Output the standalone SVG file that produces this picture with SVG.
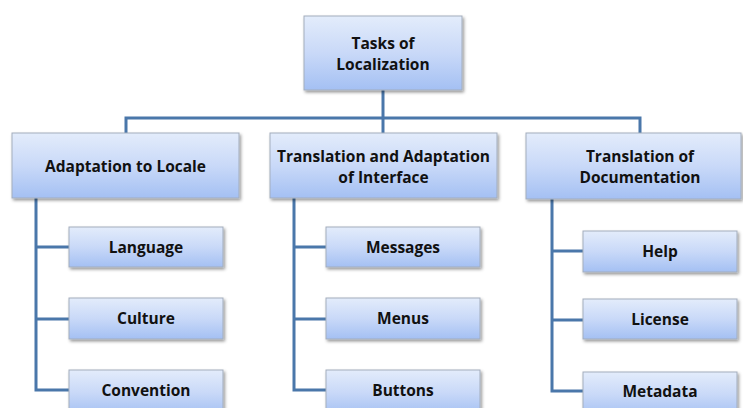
<svg xmlns="http://www.w3.org/2000/svg" width="743" height="408" viewBox="0 0 743 408">
  <defs>
    <linearGradient id="boxFill" x1="0" y1="0" x2="0" y2="1">
      <stop offset="0" stop-color="#e3ecfb"/>
      <stop offset="0.5" stop-color="#c9d9f8"/>
      <stop offset="1" stop-color="#a4c0f3"/>
    </linearGradient>
    <filter id="shadow" x="-10%" y="-20%" width="125%" height="150%">
      <feDropShadow dx="1.5" dy="2" stdDeviation="1.4" flood-color="#000" flood-opacity="0.4"/>
    </filter>
  </defs>
  <style>
    .box { fill: url(#boxFill); stroke: #a3adbd; stroke-width: 1; filter: url(#shadow); }
    .lbl { font-family: "Open Sans", "Liberation Sans", sans-serif; font-weight: bold; font-size: 15.5px; fill: #111; text-anchor: middle; }
    .link { fill: none; stroke: #4a77aa; stroke-width: 3; stroke-linejoin: miter; }
  </style>
  <rect width="743" height="408" fill="#fff"/>

  <!-- connectors -->
  <g id="connectors">
    <path class="link" d="M383 90 V118"/>
    <path class="link" d="M126 133 V118 H640 V133"/>
    <path class="link" d="M383 118 V133"/>
    <path class="link" d="M36 198 V390 H69 M36 247 H69 M36 319 H69"/>
    <path class="link" d="M294 198 V390 H326 M294 247 H326 M294 319 H326"/>
    <path class="link" d="M552 199 V391 H583 M552 251 H583 M552 320 H583"/>
  </g>

  <!-- root -->
  <g id="root">
    <rect class="box" x="304" y="16" width="158" height="74"/>
    <text class="lbl" x="383" y="49">Tasks of</text>
    <text class="lbl" x="383" y="70">Localization</text>
  </g>

  <!-- second level -->
  <g id="adaptation">
    <rect class="box" x="12" y="133" width="227" height="65"/>
    <text class="lbl" x="125.5" y="171.5">Adaptation to Locale</text>
  </g>
  <g id="interface">
    <rect class="box" x="270" y="133" width="227" height="65"/>
    <text class="lbl" x="383.5" y="161.5">Translation and Adaptation</text>
    <text class="lbl" x="383.5" y="182.5">of Interface</text>
  </g>
  <g id="documentation">
    <rect class="box" x="526" y="133" width="215" height="66"/>
    <text class="lbl" x="640" y="161.5">Translation of</text>
    <text class="lbl" x="640" y="182.5">Documentation</text>
  </g>

  <!-- leaves: locale -->
  <g id="language">
    <rect class="box" x="69" y="227" width="154" height="40"/>
    <text class="lbl" x="146" y="252.5">Language</text>
  </g>
  <g id="culture">
    <rect class="box" x="69" y="298" width="154" height="41"/>
    <text class="lbl" x="146" y="324">Culture</text>
  </g>
  <g id="convention">
    <rect class="box" x="69" y="370" width="154" height="45"/>
    <text class="lbl" x="146" y="395.5">Convention</text>
  </g>

  <!-- leaves: interface -->
  <g id="messages">
    <rect class="box" x="326" y="227" width="154" height="40"/>
    <text class="lbl" x="403" y="252.5">Messages</text>
  </g>
  <g id="menus">
    <rect class="box" x="326" y="298" width="154" height="41"/>
    <text class="lbl" x="403" y="324">Menus</text>
  </g>
  <g id="buttons">
    <rect class="box" x="326" y="370" width="154" height="45"/>
    <text class="lbl" x="403" y="395.5">Buttons</text>
  </g>

  <!-- leaves: documentation -->
  <g id="help">
    <rect class="box" x="583" y="231" width="154" height="41"/>
    <text class="lbl" x="660" y="256.5">Help</text>
  </g>
  <g id="license">
    <rect class="box" x="583" y="299" width="154" height="40"/>
    <text class="lbl" x="660" y="324.5">License</text>
  </g>
  <g id="metadata">
    <rect class="box" x="583" y="372" width="154" height="45"/>
    <text class="lbl" x="660" y="396.5">Metadata</text>
  </g>
</svg>
